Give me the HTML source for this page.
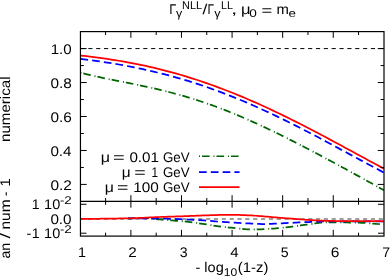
<!DOCTYPE html>
<html><head><meta charset="utf-8"><title>plot</title>
<style>html,body{margin:0;padding:0;background:#fff;overflow:hidden}body{width:390px;height:276px;font-family:"Liberation Sans",sans-serif}</style>
</head><body>
<svg width="390" height="276" viewBox="0 0 390 276" style="display:block">
<rect width="390" height="276" fill="#fff"/>
<defs><filter id="gray" filterUnits="userSpaceOnUse" x="0" y="0" width="390" height="276" color-interpolation-filters="sRGB"><feColorMatrix type="saturate" values="0"/></filter><clipPath id="ct"><rect x="80.45" y="31.6" width="303.55" height="169.8"/></clipPath><clipPath id="cb"><rect x="80.45" y="201.4" width="303.55" height="34.69999999999999"/></clipPath><clipPath id="cb2"><rect x="128" y="201.4" width="256.0" height="34.69999999999999"/></clipPath></defs>
<path d="M80.45,48.58 H384.0" stroke="#000" stroke-width="1" stroke-dasharray="4.15 3.7" fill="none"/>
<path d="M80.45,218.95 H384.0" stroke="#808080" stroke-width="1.6" stroke-dasharray="4.15 3.7" fill="none"/>
<g clip-path="url(#ct)" fill="none" stroke-width="1.75">
<path d="M80.45,72.58 L84.29,73.60 L88.13,74.56 L91.98,75.48 L95.82,76.36 L99.66,77.21 L103.50,78.03 L107.35,78.82 L111.19,79.60 L115.03,80.37 L118.87,81.13 L122.72,81.89 L126.56,82.65 L130.40,83.41 L134.24,84.19 L138.09,84.97 L141.93,85.77 L145.77,86.59 L149.61,87.42 L153.46,88.28 L157.30,89.17 L161.14,90.08 L164.98,91.02 L168.83,91.99 L172.67,92.99 L176.51,94.02 L180.35,95.09 L184.19,96.19 L188.04,97.33 L191.88,98.50 L195.72,99.71 L199.56,100.96 L203.41,102.24 L207.25,103.56 L211.09,104.91 L214.93,106.30 L218.78,107.73 L222.62,109.19 L226.46,110.69 L230.30,112.22 L234.15,113.78 L237.99,115.38 L241.83,117.01 L245.67,118.67 L249.52,120.36 L253.36,122.08 L257.20,123.82 L261.04,125.60 L264.89,127.39 L268.73,129.22 L272.57,131.06 L276.41,132.93 L280.26,134.82 L284.10,136.73 L287.94,138.65 L291.78,140.60 L295.62,142.55 L299.47,144.53 L303.31,146.52 L307.15,148.52 L310.99,150.53 L314.84,152.56 L318.68,154.59 L322.52,156.63 L326.36,158.69 L330.21,160.75 L334.05,162.81 L337.89,164.89 L341.73,166.97 L345.58,169.06 L349.42,171.15 L353.26,173.25 L357.10,175.36 L360.95,177.47 L364.79,179.59 L368.63,181.72 L372.47,183.86 L376.32,186.00 L380.16,188.16 L384.00,190.32" stroke="#006400" stroke-dasharray="1 2 7.6 3.9"/>
<path d="M80.45,58.85 L84.29,59.34 L88.13,59.84 L91.98,60.36 L95.82,60.89 L99.66,61.45 L103.50,62.02 L107.35,62.61 L111.19,63.22 L115.03,63.85 L118.87,64.51 L122.72,65.19 L126.56,65.89 L130.40,66.62 L134.24,67.38 L138.09,68.16 L141.93,68.97 L145.77,69.80 L149.61,70.67 L153.46,71.56 L157.30,72.48 L161.14,73.43 L164.98,74.41 L168.83,75.43 L172.67,76.47 L176.51,77.54 L180.35,78.64 L184.19,79.78 L188.04,80.94 L191.88,82.14 L195.72,83.37 L199.56,84.63 L203.41,85.92 L207.25,87.25 L211.09,88.60 L214.93,89.99 L218.78,91.41 L222.62,92.85 L226.46,94.33 L230.30,95.84 L234.15,97.38 L237.99,98.95 L241.83,100.54 L245.67,102.17 L249.52,103.82 L253.36,105.51 L257.20,107.22 L261.04,108.95 L264.89,110.71 L268.73,112.50 L272.57,114.31 L276.41,116.14 L280.26,118.00 L284.10,119.88 L287.94,121.78 L291.78,123.70 L295.62,125.63 L299.47,127.59 L303.31,129.56 L307.15,131.55 L310.99,133.56 L314.84,135.57 L318.68,137.60 L322.52,139.65 L326.36,141.70 L330.21,143.75 L334.05,145.82 L337.89,147.89 L341.73,149.97 L345.58,152.05 L349.42,154.13 L353.26,156.21 L357.10,158.28 L360.95,160.36 L364.79,162.43 L368.63,164.49 L372.47,166.54 L376.32,168.58 L380.16,170.61 L384.00,172.62" stroke="#0000ff" stroke-dasharray="7.7 4.1"/>
<path d="M80.45,55.53 L84.29,55.95 L88.13,56.39 L91.98,56.85 L95.82,57.34 L99.66,57.84 L103.50,58.37 L107.35,58.93 L111.19,59.51 L115.03,60.11 L118.87,60.75 L122.72,61.41 L126.56,62.09 L130.40,62.81 L134.24,63.55 L138.09,64.32 L141.93,65.12 L145.77,65.95 L149.61,66.81 L153.46,67.70 L157.30,68.62 L161.14,69.57 L164.98,70.55 L168.83,71.56 L172.67,72.60 L176.51,73.68 L180.35,74.78 L184.19,75.92 L188.04,77.09 L191.88,78.29 L195.72,79.52 L199.56,80.78 L203.41,82.08 L207.25,83.40 L211.09,84.75 L214.93,86.14 L218.78,87.56 L222.62,89.00 L226.46,90.48 L230.30,91.98 L234.15,93.52 L237.99,95.08 L241.83,96.67 L245.67,98.29 L249.52,99.94 L253.36,101.61 L257.20,103.31 L261.04,105.03 L264.89,106.78 L268.73,108.56 L272.57,110.36 L276.41,112.18 L280.26,114.02 L284.10,115.89 L287.94,117.77 L291.78,119.68 L295.62,121.60 L299.47,123.55 L303.31,125.51 L307.15,127.48 L310.99,129.47 L314.84,131.48 L318.68,133.50 L322.52,135.53 L326.36,137.57 L330.21,139.63 L334.05,141.69 L337.89,143.76 L341.73,145.83 L345.58,147.91 L349.42,149.99 L353.26,152.08 L357.10,154.17 L360.95,156.25 L364.79,158.34 L368.63,160.42 L372.47,162.50 L376.32,164.57 L380.16,166.63 L384.00,168.68" stroke="#ff0000"/>
</g>
<g clip-path="url(#cb)" fill="none" stroke-width="1.75">
<path d="M80.45,218.85 L82.49,218.85 L84.52,218.85 L86.56,218.84 L88.60,218.83 L90.64,218.82 L92.67,218.81 L94.71,218.79 L96.75,218.78 L98.79,218.76 L100.82,218.74 L102.86,218.72 L104.90,218.69 L106.93,218.67 L108.97,218.64 L111.01,218.61 L113.05,218.59 L115.08,218.55 L117.12,218.52 L119.16,218.49 L121.19,218.46 L123.23,218.42 L125.27,218.39 L127.31,218.35 L129.34,218.31 L131.38,218.27 L133.42,218.22 L135.46,218.15 L137.49,218.07 L139.53,217.99 L141.57,217.89 L143.60,217.83 L145.64,217.88 L147.68,218.02 L149.72,218.22 L151.75,218.47 L153.79,218.74 L155.83,219.02 L157.87,219.28 L159.90,219.49 L161.94,219.67 L163.98,219.84 L166.01,220.00 L168.05,220.16 L170.09,220.31 L172.13,220.46 L174.16,220.61 L176.20,220.76 L178.24,220.92 L180.28,221.08 L182.31,221.25 L184.35,221.43 L186.39,221.63 L188.42,221.83 L190.46,222.05 L192.50,222.30 L194.54,222.58 L196.57,222.88 L198.61,223.20 L200.65,223.52 L202.68,223.84 L204.72,224.16 L206.76,224.47 L208.80,224.80 L210.83,225.13 L212.87,225.46 L214.91,225.78 L216.95,226.09 L218.98,226.37 L221.02,226.62 L223.06,226.86 L225.09,227.08 L227.13,227.30 L229.17,227.51 L231.21,227.72 L233.24,227.94 L235.28,228.17 L237.32,228.41 L239.36,228.64 L241.39,228.86 L243.43,229.04 L245.47,229.18 L247.50,229.26 L249.54,229.33 L251.58,229.40 L253.62,229.48 L255.65,229.52 L257.69,229.46 L259.73,229.36 L261.77,229.27 L263.80,229.19 L265.84,229.08 L267.88,228.97 L269.91,228.86 L271.95,228.74 L273.99,228.60 L276.03,228.44 L278.06,228.24 L280.10,228.02 L282.14,227.80 L284.17,227.57 L286.21,227.35 L288.25,227.11 L290.29,226.86 L292.32,226.59 L294.36,226.30 L296.40,226.02 L298.44,225.74 L300.47,225.47 L302.51,225.19 L304.55,224.93 L306.58,224.69 L308.62,224.45 L310.66,224.19 L312.70,223.89 L314.73,223.50 L316.77,223.12 L318.81,222.87 L320.85,222.72 L322.88,222.59 L324.92,222.49 L326.96,222.44 L328.99,222.40 L331.03,222.39 L333.07,222.40 L335.11,222.43 L337.14,222.46 L339.18,222.47 L341.22,222.48 L343.26,222.48 L345.29,222.49 L347.33,222.50 L349.37,222.51 L351.40,222.53 L353.44,222.57 L355.48,222.61 L357.52,222.66 L359.55,222.72 L361.59,222.79 L363.63,222.87 L365.66,223.00 L367.70,223.15 L369.74,223.33 L371.78,223.51 L373.81,223.69 L375.85,223.85 L377.89,224.00 L379.93,224.14 L381.96,224.27 L384.00,224.40" stroke="#006400" stroke-dasharray="1 2 7.6 3.9" clip-path="url(#cb2)"/>
<path d="M80.45,218.85 L82.49,218.85 L84.52,218.85 L86.56,218.84 L88.60,218.83 L90.64,218.82 L92.67,218.81 L94.71,218.79 L96.75,218.78 L98.79,218.76 L100.82,218.74 L102.86,218.72 L104.90,218.69 L106.93,218.67 L108.97,218.64 L111.01,218.61 L113.05,218.59 L115.08,218.55 L117.12,218.52 L119.16,218.49 L121.19,218.46 L123.23,218.42 L125.27,218.39 L127.31,218.35 L129.34,218.32 L131.38,218.30 L133.42,218.29 L135.46,218.28 L137.49,218.28 L139.53,218.28 L141.57,218.28 L143.60,218.29 L145.64,218.30 L147.68,218.32 L149.72,218.34 L151.75,218.37 L153.79,218.39 L155.83,218.42 L157.87,218.46 L159.90,218.50 L161.94,218.54 L163.98,218.60 L166.01,218.66 L168.05,218.72 L170.09,218.80 L172.13,218.88 L174.16,218.96 L176.20,219.05 L178.24,219.14 L180.28,219.24 L182.31,219.33 L184.35,219.43 L186.39,219.53 L188.42,219.63 L190.46,219.72 L192.50,219.82 L194.54,219.91 L196.57,220.01 L198.61,220.11 L200.65,220.23 L202.68,220.35 L204.72,220.48 L206.76,220.63 L208.80,220.80 L210.83,220.98 L212.87,221.16 L214.91,221.34 L216.95,221.50 L218.98,221.64 L221.02,221.79 L223.06,221.92 L225.09,222.05 L227.13,222.17 L229.17,222.31 L231.21,222.45 L233.24,222.59 L235.28,222.71 L237.32,222.82 L239.36,222.92 L241.39,223.04 L243.43,223.16 L245.47,223.27 L247.50,223.38 L249.54,223.47 L251.58,223.58 L253.62,223.69 L255.65,223.79 L257.69,223.87 L259.73,223.95 L261.77,224.02 L263.80,224.04 L265.84,224.00 L267.88,223.94 L269.91,223.86 L271.95,223.80 L273.99,223.74 L276.03,223.65 L278.06,223.54 L280.10,223.43 L282.14,223.31 L284.17,223.19 L286.21,223.08 L288.25,222.98 L290.29,222.88 L292.32,222.78 L294.36,222.68 L296.40,222.58 L298.44,222.49 L300.47,222.40 L302.51,222.31 L304.55,222.21 L306.58,222.12 L308.62,222.02 L310.66,221.92 L312.70,221.83 L314.73,221.74 L316.77,221.67 L318.81,221.60 L320.85,221.55 L322.88,221.48 L324.92,221.40 L326.96,221.34 L328.99,221.30 L331.03,221.30 L333.07,221.30 L335.11,221.30 L337.14,221.30 L339.18,221.30 L341.22,221.30 L343.26,221.30 L345.29,221.30 L347.33,221.30 L349.37,221.30 L351.40,221.30 L353.44,221.30 L355.48,221.30 L357.52,221.30 L359.55,221.30 L361.59,221.30 L363.63,221.31 L365.66,221.32 L367.70,221.33 L369.74,221.34 L371.78,221.36 L373.81,221.38 L375.85,221.40 L377.89,221.42 L379.93,221.45 L381.96,221.47 L384.00,221.50" stroke="#0000ff" stroke-dasharray="7.7 4.1" clip-path="url(#cb2)"/>
<path d="M80.45,218.85 L82.49,218.85 L84.52,218.85 L86.56,218.84 L88.60,218.83 L90.64,218.82 L92.67,218.81 L94.71,218.79 L96.75,218.78 L98.79,218.76 L100.82,218.74 L102.86,218.72 L104.90,218.69 L106.93,218.67 L108.97,218.64 L111.01,218.61 L113.05,218.59 L115.08,218.55 L117.12,218.52 L119.16,218.49 L121.19,218.46 L123.23,218.42 L125.27,218.39 L127.31,218.35 L129.34,218.31 L131.38,218.27 L133.42,218.22 L135.46,218.15 L137.49,218.07 L139.53,217.99 L141.57,217.89 L143.60,217.79 L145.64,217.69 L147.68,217.58 L149.72,217.48 L151.75,217.37 L153.79,217.27 L155.83,217.18 L157.87,217.09 L159.90,217.00 L161.94,216.93 L163.98,216.86 L166.01,216.79 L168.05,216.72 L170.09,216.65 L172.13,216.59 L174.16,216.52 L176.20,216.46 L178.24,216.39 L180.28,216.33 L182.31,216.26 L184.35,216.20 L186.39,216.13 L188.42,216.06 L190.46,215.98 L192.50,215.90 L194.54,215.82 L196.57,215.73 L198.61,215.65 L200.65,215.56 L202.68,215.48 L204.72,215.41 L206.76,215.34 L208.80,215.27 L210.83,215.20 L212.87,215.13 L214.91,215.07 L216.95,215.01 L218.98,214.97 L221.02,214.93 L223.06,214.90 L225.09,214.87 L227.13,214.85 L229.17,214.85 L231.21,214.86 L233.24,214.88 L235.28,214.90 L237.32,214.94 L239.36,214.98 L241.39,215.05 L243.43,215.12 L245.47,215.20 L247.50,215.29 L249.54,215.38 L251.58,215.48 L253.62,215.60 L255.65,215.75 L257.69,215.90 L259.73,216.07 L261.77,216.24 L263.80,216.40 L265.84,216.57 L267.88,216.74 L269.91,216.92 L271.95,217.10 L273.99,217.28 L276.03,217.47 L278.06,217.64 L280.10,217.81 L282.14,217.97 L284.17,218.12 L286.21,218.27 L288.25,218.41 L290.29,218.56 L292.32,218.70 L294.36,218.85 L296.40,219.01 L298.44,219.17 L300.47,219.34 L302.51,219.50 L304.55,219.67 L306.58,219.82 L308.62,219.96 L310.66,220.09 L312.70,220.21 L314.73,220.34 L316.77,220.45 L318.81,220.56 L320.85,220.66 L322.88,220.74 L324.92,220.80 L326.96,220.85 L328.99,220.90 L331.03,220.94 L333.07,220.98 L335.11,221.01 L337.14,221.04 L339.18,221.05 L341.22,221.05 L343.26,221.05 L345.29,221.05 L347.33,221.05 L349.37,221.05 L351.40,221.05 L353.44,221.05 L355.48,221.05 L357.52,221.05 L359.55,221.05 L361.59,221.05 L363.63,221.06 L365.66,221.07 L367.70,221.08 L369.74,221.10 L371.78,221.12 L373.81,221.15 L375.85,221.18 L377.89,221.20 L379.93,221.24 L381.96,221.27 L384.00,221.30" stroke="#ff0000"/>
</g>
<path d="M199.0,156.25 H239.5" stroke="#006400" stroke-width="1.6" fill="none" stroke-dasharray="1 2 7.6 3.9"/>
<path d="M199.0,172.15 H239.5" stroke="#0000ff" stroke-width="1.6" fill="none" stroke-dasharray="7.7 4.1"/>
<path d="M199.0,187.15 H239.5" stroke="#ff0000" stroke-width="1.6" fill="none"/>
<path d="M105.60,31.6 v3.4 M105.60,198.0 v6.8 M105.60,236.1 v-3.4 M130.89,31.6 v6.25 M130.89,195.15 v12.5 M130.89,236.1 v-6.25 M156.19,31.6 v3.4 M156.19,198.0 v6.8 M156.19,236.1 v-3.4 M181.48,31.6 v6.25 M181.48,195.15 v12.5 M181.48,236.1 v-6.25 M206.78,31.6 v3.4 M206.78,198.0 v6.8 M206.78,236.1 v-3.4 M232.08,31.6 v6.25 M232.08,195.15 v12.5 M232.08,236.1 v-6.25 M257.37,31.6 v3.4 M257.37,198.0 v6.8 M257.37,236.1 v-3.4 M282.67,31.6 v6.25 M282.67,195.15 v12.5 M282.67,236.1 v-6.25 M307.96,31.6 v3.4 M307.96,198.0 v6.8 M307.96,236.1 v-3.4 M333.26,31.6 v6.25 M333.26,195.15 v12.5 M333.26,236.1 v-6.25 M358.55,31.6 v3.4 M358.55,198.0 v6.8 M358.55,236.1 v-3.4 M80.45,184.42 h6.25 M384.0,184.42 h-6.25 M80.45,167.44 h3.4 M384.0,167.44 h-3.4 M80.45,150.46 h6.25 M384.0,150.46 h-6.25 M80.45,133.48 h3.4 M384.0,133.48 h-3.4 M80.45,116.50 h6.25 M384.0,116.50 h-6.25 M80.45,99.52 h3.4 M384.0,99.52 h-3.4 M80.45,82.54 h6.25 M384.0,82.54 h-6.25 M80.45,65.56 h3.4 M384.0,65.56 h-3.4 M80.45,48.58 h6.25 M384.0,48.58 h-6.25 M80.45,233.21 h6 M384.0,233.21 h-6 M80.45,204.29 h6 M384.0,204.29 h-6" stroke="#000" stroke-width="1" fill="none"/>
<rect x="80.45" y="31.6" width="303.55" height="204.5" fill="none" stroke="#000" stroke-width="1.2"/>
<path d="M80.45,201.4 H384.0" stroke="#000" stroke-width="1.2"/>
<g font-family="Liberation Sans, sans-serif" font-size="14.0" fill="#000" filter="url(#gray)" style="text-rendering:geometricPrecision">
<text transform="translate(50.67,53.68) scale(1.0791,1)">1.0</text>
<text transform="translate(50.39,87.64) scale(1.0981,1)">0.8</text>
<text transform="translate(50.39,121.60) scale(1.0981,1)">0.6</text>
<text transform="translate(50.39,155.56) scale(1.0856,1)">0.4</text>
<text transform="translate(50.38,189.52) scale(1.1044,1)">0.2</text>
<text transform="translate(78.12,256.50) scale(1.0239,1)">1</text>
<text transform="translate(128.34,256.50) scale(1.0911,1)">2</text>
<text transform="translate(179.77,256.50) scale(1.0075,1)">3</text>
<text transform="translate(230.16,256.50) scale(1.0750,1)">4</text>
<text transform="translate(280.73,256.50) scale(1.0150,1)">5</text>
<text transform="translate(330.72,256.50) scale(1.1120,1)">6</text>
<text transform="translate(382.26,256.50) scale(1.0103,1)">7</text>
<text transform="translate(50.39,223.60) scale(1.0884,1)">0.0</text>
<text transform="translate(31.64,209.30) scale(1.0074,1)">1</text>
<text transform="translate(44.11,209.30) scale(1.0347,1)">10</text>
<text transform="translate(59.92,203.90) scale(1.1598,1)" font-size="11.2">-</text>
<text transform="translate(64.23,203.90) scale(1.1970,1)" font-size="11.2">2</text>
<text transform="translate(26.45,238.10) scale(1.0309,1)">-</text>
<text transform="translate(31.64,238.10) scale(1.0074,1)">1</text>
<text transform="translate(44.11,238.10) scale(1.0347,1)">10</text>
<text transform="translate(59.92,232.70) scale(1.1598,1)" font-size="11.2">-</text>
<text transform="translate(64.23,232.70) scale(1.1970,1)" font-size="11.2">2</text>
<text transform="translate(100.71,161.50) scale(1.1494,1)">μ</text>
<text transform="translate(112.90,161.50) scale(1.4286,1)">=</text>
<text transform="translate(129.39,161.50) scale(1.0883,1)">0.01</text>
<text transform="translate(162.94,161.50) scale(0.9499,1)">GeV</text>
<text transform="translate(121.86,176.90) scale(1.1002,1)">μ</text>
<text transform="translate(134.22,176.90) scale(1.3991,1)">=</text>
<text transform="translate(151.52,176.90) scale(0.8423,1)">1</text>
<text transform="translate(162.94,176.90) scale(0.9499,1)">GeV</text>
<text transform="translate(104.63,192.20) scale(1.1330,1)">μ</text>
<text transform="translate(117.02,192.20) scale(1.3991,1)">=</text>
<text transform="translate(133.25,192.20) scale(1.0978,1)">100</text>
<text transform="translate(162.94,192.20) scale(0.9499,1)">GeV</text>
<text transform="translate(195.45,272.40) scale(1.0309,1)">-</text>
<text transform="translate(204.32,272.40) scale(1.0395,1)">log</text>
<text transform="translate(223.69,275.80) scale(1.0831,1)" font-size="11.2">10</text>
<text transform="translate(237.87,272.40) scale(1.0622,1)">(1-z)</text>
<text transform="translate(169.25,13.80) scale(0.9091,1)">Γ</text>
<text transform="translate(176.04,17.30) scale(1.0825,1)" font-size="11.5">γ</text>
<text transform="translate(182.10,8.60) scale(0.9773,1)" font-size="11.2">NLL</text>
<text transform="translate(202.40,13.80) scale(1.2355,1)">/</text>
<text transform="translate(207.62,13.80) scale(0.8442,1)">Γ</text>
<text transform="translate(214.14,17.30) scale(1.1003,1)" font-size="11.5">γ</text>
<text transform="translate(220.91,8.60) scale(0.9602,1)" font-size="11.2">LL</text>
<text transform="translate(231.07,13.80) scale(1.6117,1)">,</text>
<text transform="translate(240.88,13.80) scale(1.1823,1)">μ</text>
<text transform="translate(249.36,16.90) scale(1.2154,1)" font-size="11.2">0</text>
<text transform="translate(261.58,14.70) scale(1.3108,1)">=</text>
<text transform="translate(276.40,13.80) scale(1.0612,1)">m</text>
<text transform="translate(288.43,16.90) scale(1.1968,1)" font-size="11.2">e</text>
<text transform="translate(9.90,141.92) rotate(-90) scale(1.0782,1)">numerical</text>
<text transform="translate(9.90,258.60) rotate(-90) scale(1.0118,1)">an</text>
<text transform="translate(9.90,238.50) rotate(-90) scale(1.3900,1)">/</text>
<text transform="translate(9.90,229.55) rotate(-90) scale(1.1074,1)">num</text>
<text transform="translate(9.90,195.88) rotate(-90) scale(0.9131,1)">-</text>
<text transform="translate(9.90,186.59) rotate(-90) scale(1.0405,1)">1</text>
</g>
</svg>
</body></html>
